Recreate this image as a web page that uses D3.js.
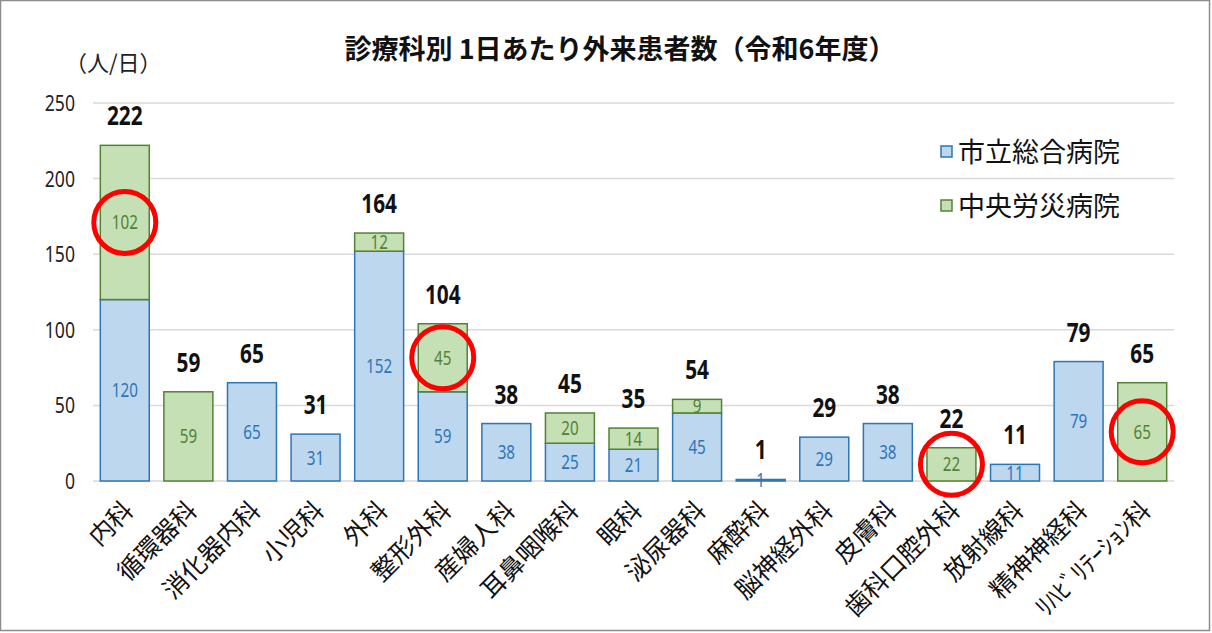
<!DOCTYPE html>
<html><head><meta charset="utf-8">
<script src="https://cdn.jsdelivr.net/npm/d3@7"></script>
<style>
html,body{margin:0;padding:0;background:#fff;}
svg{display:block;}
</style></head>
<body>
<script>
const categories = ["内科","循環器科","消化器内科","小児科","外科","整形外科","産婦人科","耳鼻咽喉科","眼科","泌尿器科","麻酔科","脳神経外科","皮膚科","歯科口腔外科","放射線科","精神神経科","ﾘﾊﾋﾞﾘﾃｰｼｮﾝ科"];
const cityValues  = [120, 0, 65, 31, 152, 59, 38, 25, 21, 45, 1, 29, 38, 0, 11, 79, 0];
const rosaiValues = [102, 59, 0, 0, 12, 45, 0, 20, 14, 9, 0, 0, 0, 22, 0, 0, 65];
const seriesNames = ["市立総合病院","中央労災病院"];
const highlighted = ["内科","整形外科","歯科口腔外科","ﾘﾊﾋﾞﾘﾃｰｼｮﾝ科"];
const yTicks = [0, 50, 100, 150, 200, 250];
const title = "診療科別 1日あたり外来患者数（令和6年度）";
const unitLabel = "（人/日）";

const W = 1212, H = 633;
const numFont = "'Noto Sans','Roboto',sans-serif";
const jpFont = "'Noto Sans CJK JP',sans-serif";
const colors = {
  city: {fill:"#bdd7ee", stroke:"#2e75b6", text:"#2e75b6"},
  rosai:{fill:"#c5e0b4", stroke:"#548235", text:"#548235"}
};

const svg = d3.select("body").append("svg").attr("width", W).attr("height", H);
svg.append("rect").attr("x",0.5).attr("y",0.5).attr("width",W-3).attr("height",H-3)
  .attr("fill","#fff").attr("stroke","#8c8c8c").attr("stroke-width",1.5);

const x = d3.scaleBand().domain(categories).range([93, 1174]).paddingInner(0.23).paddingOuter(0.115);
const y = d3.scaleLinear().domain([0, 250]).range([481, 103]);

// gridlines
svg.append("g").selectAll("line").data(yTicks).join("line")
  .attr("x1", 93).attr("x2", 1174)
  .attr("y1", d => y(d)).attr("y2", d => y(d))
  .attr("stroke", "#d9d9d9").attr("stroke-width", 1.5);

// y tick labels
svg.append("g").selectAll("text").data(yTicks).join("text")
  .attr("transform", d => `translate(75,${y(d) + 8}) scale(0.8,1)`)
  .attr("text-anchor","end").attr("font-family", numFont).attr("font-size", 22).attr("fill","#222")
  .text(d => d);

// title
svg.append("text").attr("x", 620).attr("y", 59).attr("text-anchor","middle")
  .attr("font-family", jpFont).attr("font-size", 27).attr("font-weight","bold").attr("fill","#111")
  .text(title);
svg.append("text").attr("x", 65).attr("y", 71)
  .attr("font-family", jpFont).attr("font-size", 22).attr("fill","#222")
  .text(unitLabel);

const data = categories.map((c,i) => ({cat:c, city:cityValues[i], rosai:rosaiValues[i], total:cityValues[i]+rosaiValues[i]}));
const cx = d => x(d.cat) + x.bandwidth()/2;

const bars = svg.append("g");
// city segment
bars.selectAll("rect.city").data(data.filter(d => d.city > 0)).join("rect")
  .attr("class","city")
  .attr("x", d => x(d.cat)).attr("width", x.bandwidth())
  .attr("y", d => y(d.city)).attr("height", d => y(0) - y(d.city))
  .attr("fill", colors.city.fill).attr("stroke", colors.city.stroke).attr("stroke-width", 1.5);
// rosai segment
bars.selectAll("rect.rosai").data(data.filter(d => d.rosai > 0)).join("rect")
  .attr("class","rosai")
  .attr("x", d => x(d.cat)).attr("width", x.bandwidth())
  .attr("y", d => y(d.city + d.rosai)).attr("height", d => y(d.city) - y(d.city + d.rosai))
  .attr("fill", colors.rosai.fill).attr("stroke", colors.rosai.stroke).attr("stroke-width", 1.5);

// inner labels
bars.selectAll("text.cityLbl").data(data.filter(d => d.city > 0)).join("text")
  .attr("transform", d => `translate(${cx(d)},${y(d.city/2) + 7}) scale(0.76,1)`)
  .attr("text-anchor","middle").attr("font-family", numFont).attr("font-size", 20)
  .attr("fill", colors.city.text).text(d => d.city);
bars.selectAll("text.rosaiLbl").data(data.filter(d => d.rosai > 0)).join("text")
  .attr("transform", d => `translate(${cx(d)},${y(d.city + d.rosai/2) + 7}) scale(0.76,1)`)
  .attr("text-anchor","middle").attr("font-family", numFont).attr("font-size", 20)
  .attr("fill", colors.rosai.text).text(d => d.rosai);

// totals
bars.selectAll("text.total").data(data).join("text")
  .attr("transform", d => `translate(${cx(d)},${y(d.total) - 20}) scale(0.8,1)`)
  .attr("text-anchor","middle").attr("font-family", numFont).attr("font-size", 26).attr("font-weight","bold")
  .attr("fill", "#111").text(d => d.total);

// red highlight circles
svg.append("g").selectAll("circle").data(data.filter(d => highlighted.includes(d.cat))).join("circle")
  .attr("cx", cx).attr("cy", d => y(d.city + d.rosai/2))
  .attr("r", 31).attr("fill","none").attr("stroke","#ff0000").attr("stroke-width", 5);

// category labels
svg.append("g").selectAll("text").data(categories).join("text")
  .attr("transform", c => `translate(${x(c) + x.bandwidth()/2 + 10},${512}) rotate(-45)`)
  .attr("text-anchor","end").attr("font-family", jpFont).attr("font-size", 25).attr("fill","#111")
  .text(c => c);

// legend
const legend = svg.append("g");
const legendItems = [{name:seriesNames[0], c:colors.city, y:152},{name:seriesNames[1], c:colors.rosai, y:206}];
legend.selectAll("rect").data(legendItems).join("rect")
  .attr("x", 941).attr("y", d => d.y - 6).attr("width", 11).attr("height", 11)
  .attr("fill", d => d.c.fill).attr("stroke", d => d.c.stroke).attr("stroke-width", 1.5);
legend.selectAll("text").data(legendItems).join("text")
  .attr("x", 958).attr("y", d => d.y + 10)
  .attr("font-family", jpFont).attr("font-size", 27).attr("fill","#111")
  .text(d => d.name);
</script>
</body></html>
